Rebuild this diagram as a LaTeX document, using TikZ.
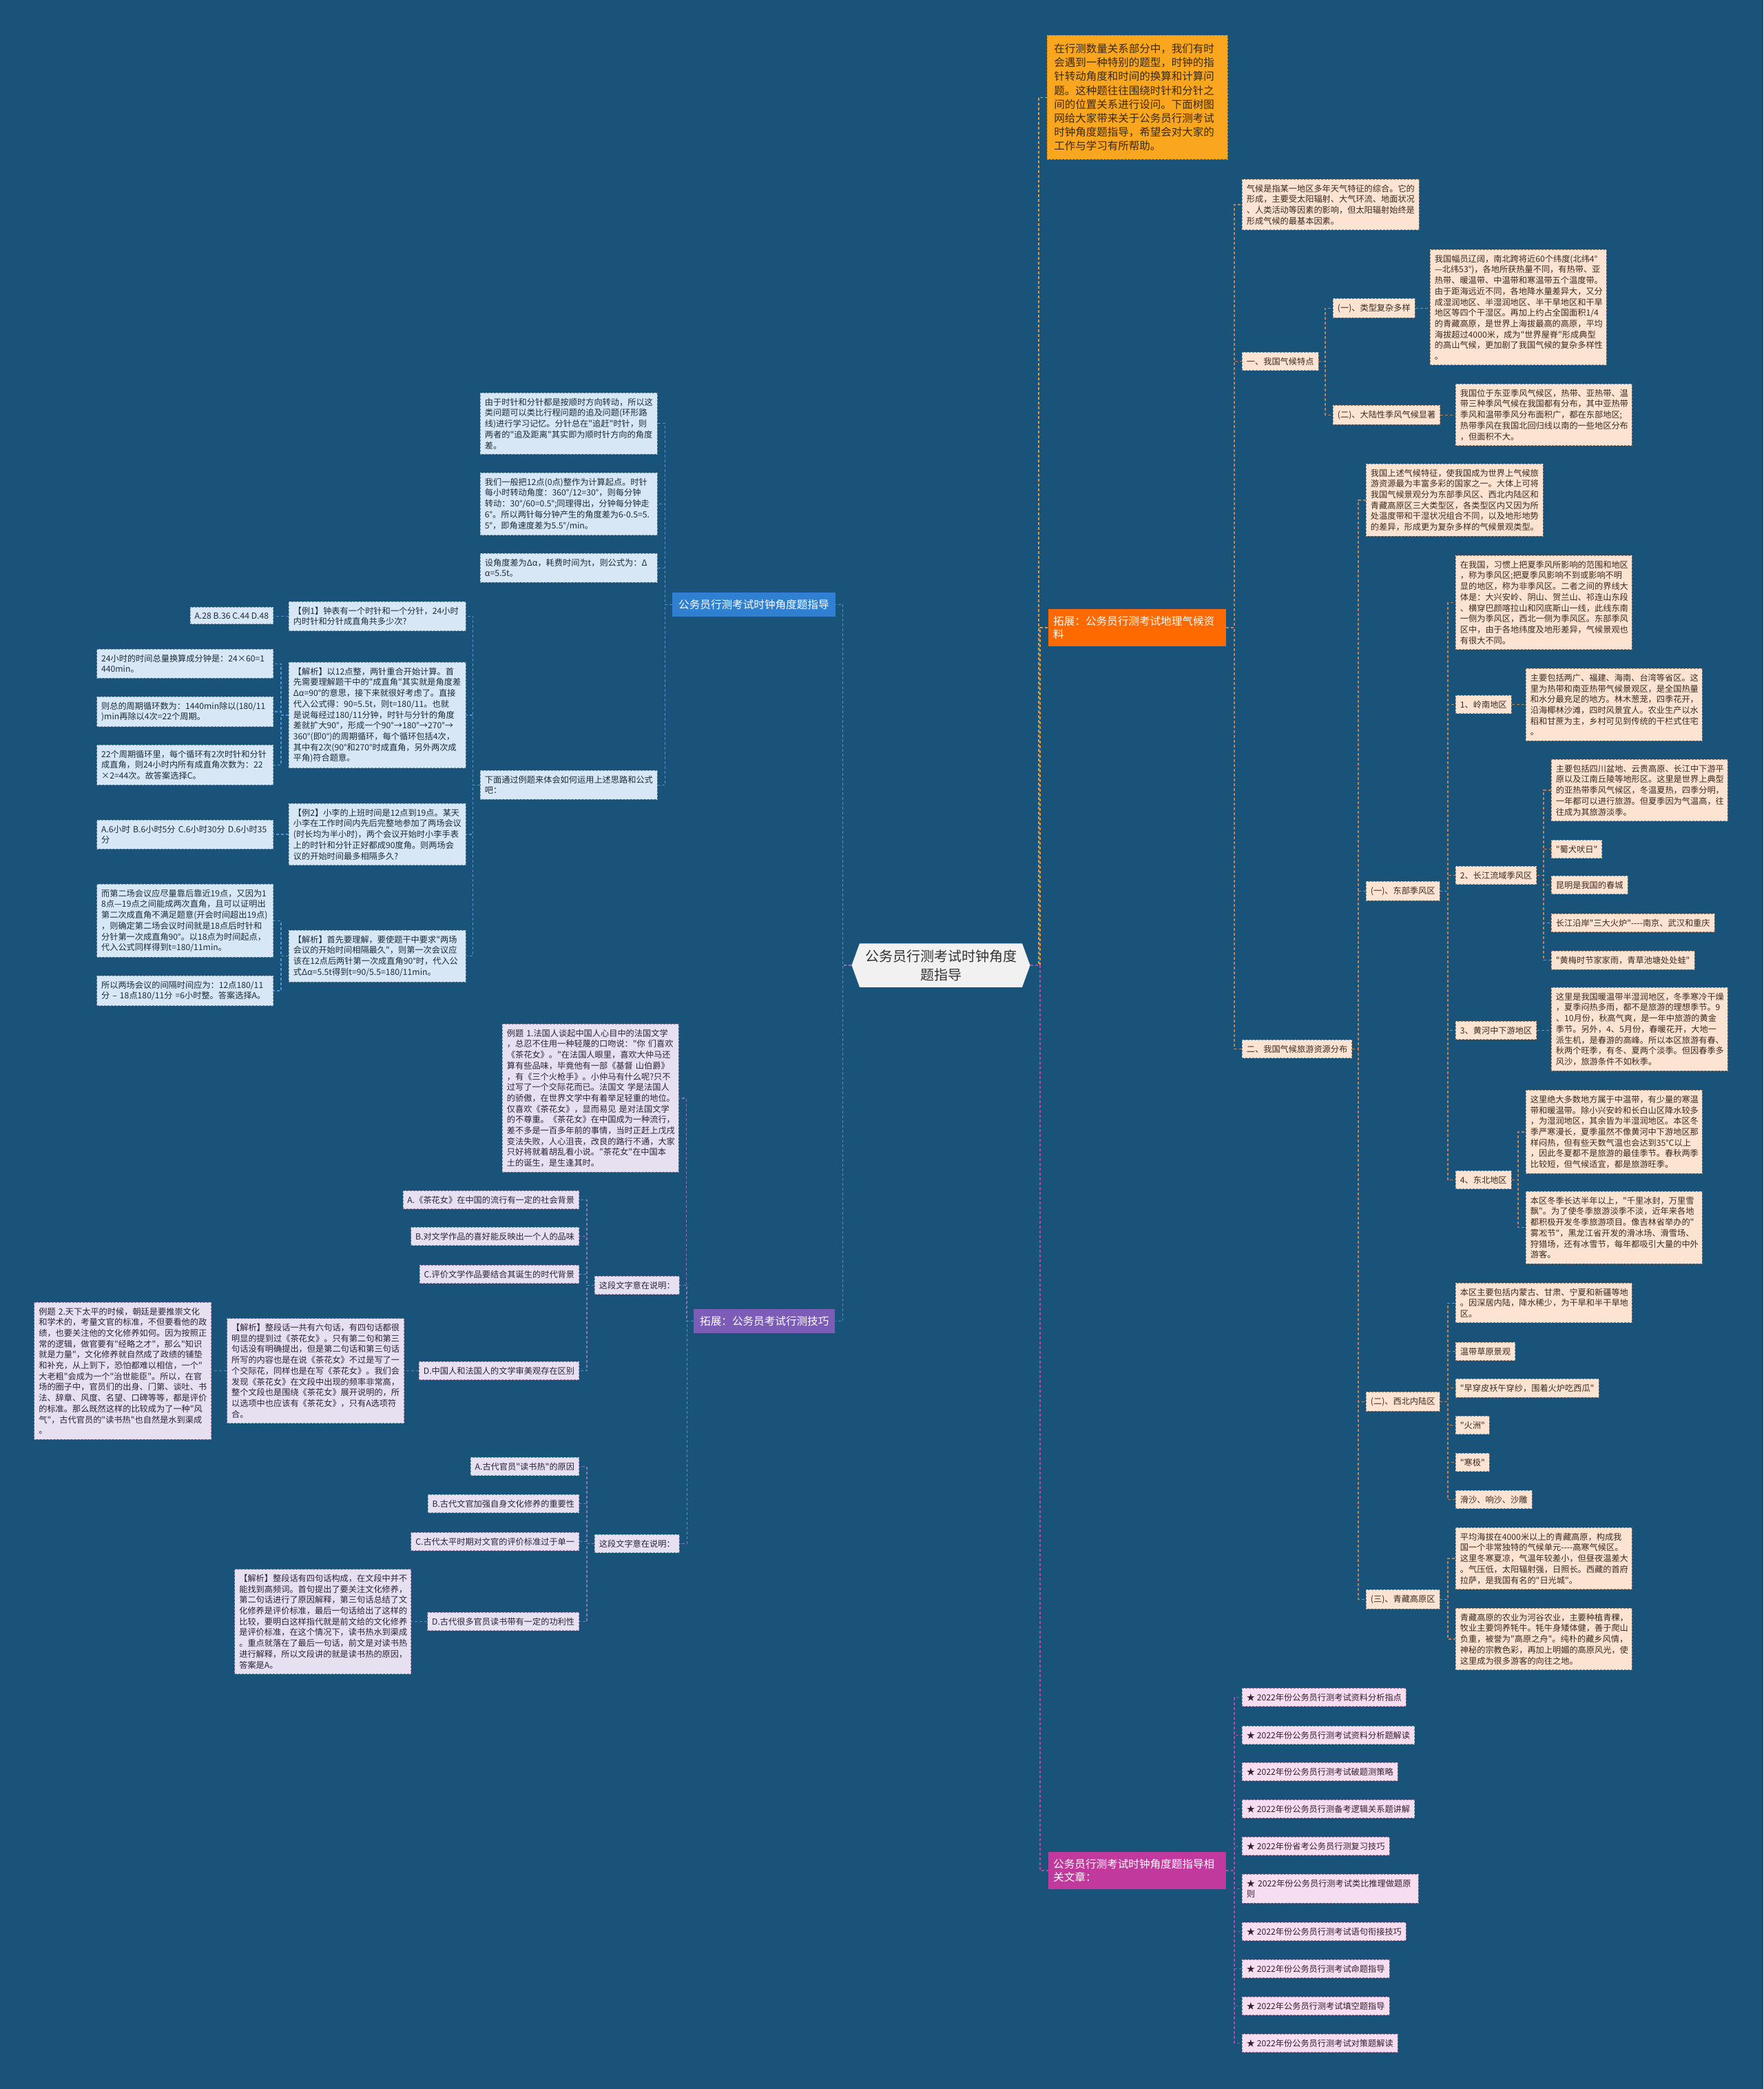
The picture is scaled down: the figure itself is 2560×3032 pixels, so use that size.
\documentclass[tikz,border=0pt]{standalone}
\usepackage{fontspec}
\newfontfamily\cjk{Noto Sans CJK SC}
\usetikzlibrary{positioning,shapes.symbols}
\definecolor{bgcol}{HTML}{1A5379}
\definecolor{introF}{HTML}{FAA61E}
\definecolor{introD}{HTML}{C98A1C}
\definecolor{introT}{HTML}{3A2A12}
\definecolor{brO}{HTML}{FF6A00}
\definecolor{brM}{HTML}{C2399E}
\definecolor{brB}{HTML}{2F80D0}
\definecolor{brV}{HTML}{7D5CB8}
\definecolor{peachF}{HTML}{FDE3D2}
\definecolor{peachD}{HTML}{9C7F70}
\definecolor{peachT}{HTML}{3B2A20}
\definecolor{blueF}{HTML}{D7E7F6}
\definecolor{blueD}{HTML}{7C95AE}
\definecolor{blueT}{HTML}{1F2B38}
\definecolor{lavF}{HTML}{E6E0F1}
\definecolor{lavD}{HTML}{8A82A8}
\definecolor{lavT}{HTML}{2A2438}
\definecolor{pinkF}{HTML}{F6DDF0}
\definecolor{pinkD}{HTML}{9A7A95}
\definecolor{pinkT}{HTML}{33202F}
\definecolor{rootF}{HTML}{F1F1F1}
\definecolor{rootT}{HTML}{333333}
\definecolor{lnO}{HTML}{E09A3A}
\definecolor{lnT}{HTML}{B98560}
\definecolor{lnM}{HTML}{B54AA3}
\definecolor{lnB}{HTML}{4D93DC}
\definecolor{lnV}{HTML}{8579BD}
\begin{document}
\begin{tikzpicture}[x=1pt, y=-1pt,
    txt/.style={font=\cjk\fontsize{12.2}{15.7}\selectfont, align=left, inner xsep=6.5pt, inner ysep=7.5pt},
    tw/.style={text width=#1pt},
    dashframe/.style={draw=#1, dashed, dash pattern=on 3pt off 2pt, line width=0.8pt},
    peachbox/.style={txt, dashframe=peachD, fill=peachF, text=peachT},
    bluebox/.style={txt, dashframe=blueD, fill=blueF, text=blueT},
    lavbox/.style={txt, dashframe=lavD, fill=lavF, text=lavT},
    pinkbox/.style={txt, dashframe=pinkD, fill=pinkF, text=pinkT},
    headbox/.style={font=\cjk\fontsize{15.6}{19}\selectfont, align=left, inner xsep=7pt, inner ysep=10pt, text=white, fill=#1},
    introbox/.style={font=\cjk\fontsize{15.5}{20.2}\selectfont, align=left, inner xsep=10pt, inner ysep=12pt, text=introT, fill=introF, dashframe=introD},
    rootbox/.style={shape=signal, signal to=west and east, signal pointer angle=140, fill=rootF, text=rootT, align=center, font=\cjk\fontsize{20}{27}\selectfont, inner xsep=8pt, inner ysep=9pt},
    link/.style={draw=#1, dashed, dash pattern=on 4pt off 3pt, line width=1.3pt},
]
\useasboundingbox (0,0) rectangle (2560,3032);
\fill[bgcol] (0,0) rectangle (2560,3032);

\node[rootbox] (root) at (1366,1401) {公务员行测考试时钟角度\\题指导};

% right: intro and climate branch
\node[introbox, tw=242, anchor=north west] (intro) at (1520,51) {在行测数量关系部分中，我们有时\\会遇到一种特别的题型，时钟的指\\针转动角度和时间的换算和计算问\\题。这种题往往围绕时针和分针之\\间的位置关系进行设问。下面树图\\网给大家带来关于公务员行测考试\\时钟角度题指导，希望会对大家的\\工作与学习有所帮助。};
\node[headbox=brO, tw=244, anchor=north west] (geo) at (1522,884) {拓展：公务员行测考试地理气候资\\料};
\node[headbox=brM, tw=244, anchor=north west] (rel) at (1522,2688) {公务员行测考试时钟角度题指导相\\关文章：};

\node[peachbox, tw=244, anchor=north west] (clim) at (1803,260) {气候是指某一地区多年天气特征的综合。它的\\形成，主要受太阳辐射、大气环流、地面状况\\、人类活动等因素的影响，但太阳辐射始终是\\形成气候的最基本因素。};
\node[peachbox, anchor=north west] (feat) at (1803,511) {一、我国气候特点};
\node[peachbox, anchor=north west] (featA) at (1935,433) {(一)、类型复杂多样};
\node[peachbox, tw=243, anchor=north west] (featAt) at (2076,362) {我国幅员辽阔，南北跨将近60个纬度(北纬4°\\—北纬53°)，各地所获热量不同，有热带、亚\\热带、暖温带、中温带和寒温带五个温度带。\\由于距海远近不同，各地降水量差异大，又分\\成湿润地区、半湿润地区、半干旱地区和干旱\\地区等四个干湿区。再加上约占全国面积1/4\\的青藏高原，是世界上海拔最高的高原，平均\\海拔超过4000米，成为"世界屋脊"形成典型\\的高山气候，更加剧了我国气候的复杂多样性\\。};
\node[peachbox, anchor=north west] (featB) at (1935,588) {(二)、大陆性季风气候显著};
\node[peachbox, tw=243, anchor=north west] (featBt) at (2113,557) {我国位于东亚季风气候区，热带、亚热带、温\\带三种季风气候在我国都有分布，其中亚热带\\季风和温带季风分布面积广，都在东部地区;\\热带季风在我国北回归线以南的一些地区分布\\，但面积不大。};

\node[peachbox, anchor=north west] (tour) at (1803,1509) {二、我国气候旅游资源分布};
\node[peachbox, tw=244, anchor=north west] (tourA) at (1983,673) {我国上述气候特征，使我国成为世界上气候旅\\游资源最为丰富多彩的国家之一。大体上可将\\我国气候景观分为东部季风区、西北内陆区和\\青藏高原区三大类型区，各类型区内又因为所\\处温度带和干湿状况组合不同，以及地形地势\\的差异，形成更为复杂多样的气候景观类型。};
\node[peachbox, anchor=north west] (east) at (1983,1279) {(一)、东部季风区};
\node[peachbox, tw=243, anchor=north west] (eastA) at (2113,806) {在我国，习惯上把夏季风所影响的范围和地区\\，称为季风区;把夏季风影响不到或影响不明\\显的地区，称为非季风区。二者之间的界线大\\体是：大兴安岭、阴山、贺兰山、祁连山东段\\、横穿巴颜喀拉山和冈底斯山一线，此线东南\\一侧为季风区，西北一侧为季风区。东部季风\\区中，由于各地纬度及地形差异，气候景观也\\有很大不同。};
\node[peachbox, anchor=north west] (ling) at (2113,1009) {1、岭南地区};
\node[peachbox, tw=243, anchor=north west] (lingT) at (2215,970) {主要包括两广、福建、海南、台湾等省区。这\\里为热带和南亚热带气候景观区，是全国热量\\和水分最充足的地方。林木葱茏，四季花开，\\沿海椰林沙滩，四时风景宜人。农业生产以水\\稻和甘蔗为主，乡村可见到传统的干栏式住宅\\。};
\node[peachbox, anchor=north west] (yang) at (2113,1257) {2、长江流域季风区};
\node[peachbox, tw=243, anchor=north west] (yangT) at (2252,1102) {主要包括四川盆地、云贵高原、长江中下游平\\原以及江南丘陵等地形区。这里是世界上典型\\的亚热带季风气候区，冬温夏热，四季分明，\\一年都可以进行旅游。但夏季因为气温高，往\\往成为其旅游淡季。};
\node[peachbox, anchor=north west] (shu) at (2252,1219) {"蜀犬吠日"};
\node[peachbox, anchor=north west] (kun) at (2252,1271) {昆明是我国的春城};
\node[peachbox, anchor=north west] (furn) at (2252,1326) {长江沿岸"三大火炉"-{}-{}-{}-南京、武汉和重庆};
\node[peachbox, anchor=north west] (mei) at (2252,1380) {"黄梅时节家家雨，青草池塘处处蛙"};
\node[peachbox, anchor=north west] (huang) at (2113,1482) {3、黄河中下游地区};
\node[peachbox, tw=243, anchor=north west] (huangT) at (2252,1433) {这里是我国暖温带半湿润地区，冬季寒冷干燥\\，夏季闷热多雨，都不是旅游的理想季节。9\\、10月份，秋高气爽，是一年中旅游的黄金\\季节。另外，4、5月份，春暖花开，大地一\\派生机，是春游的高峰。所以本区旅游有春、\\秋两个旺季，有冬、夏两个淡季。但因春季多\\风沙，旅游条件不如秋季。};
\node[peachbox, anchor=north west] (dong) at (2113,1699) {4、东北地区};
\node[peachbox, tw=243, anchor=north west] (dongA) at (2215,1582) {这里绝大多数地方属于中温带，有少量的寒温\\带和暖温带。除小兴安岭和长白山区降水较多\\，为湿润地区，其余皆为半湿润地区。本区冬\\季严寒漫长，夏季虽然不像黄河中下游地区那\\样闷热，但有些天数气温也会达到35℃以上\\，因此冬夏都不是旅游的最佳季节。春秋两季\\比较短，但气候适宜，都是旅游旺季。};
\node[peachbox, tw=243, anchor=north west] (dongB) at (2215,1729) {本区冬季长达半年以上，"千里冰封，万里雪\\飘"。为了使冬季旅游淡季不淡，近年来各地\\都积极开发冬季旅游项目。像吉林省举办的"\\雾凇节"，黑龙江省开发的滑冰场、滑雪场、\\狩猎场，还有冰雪节，每年都吸引大量的中外\\游客。};
\node[peachbox, anchor=north west] (west) at (1983,2020) {(二)、西北内陆区};
\node[peachbox, tw=243, anchor=north west] (westA) at (2113,1862) {本区主要包括内蒙古、甘肃、宁夏和新疆等地\\。因深居内陆，降水稀少，为干旱和半干旱地\\区。};
\node[peachbox, anchor=north west] (westB) at (2113,1948) {温带草原景观};
\node[peachbox, anchor=north west] (westC) at (2113,2001) {"早穿皮袄午穿纱，围着火炉吃西瓜"};
\node[peachbox, anchor=north west] (westD) at (2113,2055) {"火洲"};
\node[peachbox, anchor=north west] (westE) at (2113,2109) {"寒极"};
\node[peachbox, anchor=north west] (westF) at (2113,2163) {滑沙、响沙、沙雕};
\node[peachbox, anchor=north west] (qing) at (1983,2307) {(三)、青藏高原区};
\node[peachbox, tw=243, anchor=north west] (qingA) at (2113,2217) {平均海拔在4000米以上的青藏高原，构成我\\国一个非常独特的气候单元-{}-{}-{}-高寒气候区。\\这里冬寒夏凉，气温年较差小，但昼夜温差大\\。气压低，太阳辐射强，日照长。西藏的首府\\拉萨，是我国有名的"日光城"。};
\node[peachbox, tw=243, anchor=north west] (qingB) at (2113,2334) {青藏高原的农业为河谷农业，主要种植青稞，\\牧业主要饲养牦牛。牦牛身矮体健，善于爬山\\负重，被誉为"高原之舟"。纯朴的藏乡风情，\\神秘的宗教色彩，再加上明媚的高原风光，使\\这里成为很多游客的向往之地。};

% right: related articles
\node[pinkbox, anchor=north west] (art1) at (1803,2450) {★ 2022年份公务员行测考试资料分析指点};
\node[pinkbox, anchor=north west] (art2) at (1803,2505) {★ 2022年份公务员行测考试资料分析题解读};
\node[pinkbox, anchor=north west] (art3) at (1803,2558) {★ 2022年份公务员行测考试破题测策略};
\node[pinkbox, anchor=north west] (art4) at (1803,2612) {★ 2022年份公务员行测备考逻辑关系题讲解};
\node[pinkbox, anchor=north west] (art5) at (1803,2666) {★ 2022年份省考公务员行测复习技巧};
\node[pinkbox, tw=243, anchor=north west] (art6) at (1803,2720) {★ 2022年份公务员行测考试类比推理做题原\\则};
\node[pinkbox, anchor=north west] (art7) at (1803,2790) {★ 2022年份公务员行测考试语句衔接技巧};
\node[pinkbox, anchor=north west] (art8) at (1803,2844) {★ 2022年份公务员行测考试命题指导};
\node[pinkbox, anchor=north west] (art9) at (1803,2898) {★ 2022年公务员行测考试填空题指导};
\node[pinkbox, anchor=north west] (art10) at (1803,2952) {★ 2022年份公务员行测考试对策题解读};

% left: clock angle branch
\node[headbox=brB, inner xsep=9pt, anchor=north west] (clk) at (976,860) {公务员行测考试时钟角度题指导};
\node[bluebox, tw=244, anchor=north west] (bA) at (697,570) {由于时针和分针都是按顺时方向转动，所以这\\类问题可以类比行程问题的追及问题(环形路\\线)进行学习记忆。分针总在"追赶"时针，则\\两者的"追及距离"其实即为顺时针方向的角度\\差。};
\node[bluebox, tw=244, anchor=north west] (bB) at (697,686) {我们一般把12点(0点)整作为计算起点。时针\\每小时转动角度：360°/12=30°，则每分钟\\转动：30°/60=0.5°;同理得出，分钟每分钟走\\6°。所以两针每分钟产生的角度差为6-0.5=5.\\5°，即角速度差为5.5°/min。};
\node[bluebox, tw=244, anchor=north west] (bC) at (697,803) {设角度差为Δα，耗费时间为t，则公式为：Δ\\α=5.5t。};
\node[bluebox, tw=244, anchor=north west] (bD) at (697,1118) {下面通过例题来体会如何运用上述思路和公式\\吧：};
\node[bluebox, tw=244, anchor=north west] (ex1) at (419,873) {【例1】钟表有一个时针和一个分针，24小时\\内时针和分针成直角共多少次?};
\node[bluebox, anchor=north east] (ex1o) at (397,881) {A.28~B.36~C.44~D.48};
\node[bluebox, tw=244, anchor=north west] (sol1) at (419,961) {【解析】以12点整，两针重合开始计算。首\\先需要理解题干中的"成直角"其实就是角度差\\Δα=90°的意思，接下来就很好考虑了。直接\\代入公式得：90=5.5t，则t=180/11。也就\\是说每经过180/11分钟，时针与分针的角度\\差就扩大90°，形成一个90°→180°→270°→\\360°(即0°)的周期循环，每个循环包括4次，\\其中有2次(90°和270°时成直角，另外两次成\\平角)符合题意。};
\node[bluebox, tw=243, anchor=north east] (sol1a) at (397,942) {24小时的时间总量换算成分钟是：24×60=1\\440min。};
\node[bluebox, tw=243, anchor=north east] (sol1b) at (397,1011) {则总的周期循环数为：1440min除以(180/11\\)min再除以4次=22个周期。};
\node[bluebox, tw=243, anchor=north east] (sol1c) at (397,1081) {22个周期循环里，每个循环有2次时针和分针\\成直角，则24小时内所有成直角次数为：22\\×2=44次。故答案选择C。};
\node[bluebox, tw=244, anchor=north west] (ex2) at (419,1166) {【例2】小李的上班时间是12点到19点。某天\\小李在工作时间内先后完整地参加了两场会议\\(时长均为半小时)，两个会议开始时小李手表\\上的时针和分针正好都成90度角。则两场会\\议的开始时间最多相隔多久?};
\node[bluebox, tw=243, anchor=north east] (ex2o) at (397,1190) {A.6小时~B.6小时5分~C.6小时30分~D.6小时35\\分};
\node[bluebox, tw=244, anchor=north west] (sol2) at (419,1350) {【解析】首先要理解，要使题干中要求"两场\\会议的开始时间相隔最久"，则第一次会议应\\该在12点后两针第一次成直角90°时，代入公\\式Δα=5.5t得到t=90/5.5=180/11min。};
\node[bluebox, tw=243, anchor=north east] (sol2a) at (397,1283) {而第二场会议应尽量靠后靠近19点，又因为1\\8点—19点之间能成两次直角，且可以证明出\\第二次成直角不满足题意(开会时间超出19点)\\，则确定第二场会议时间就是18点后时针和\\分针第一次成直角90°。以18点为时间起点，\\代入公式同样得到t=180/11min。};
\node[bluebox, tw=243, anchor=north east] (sol2b) at (397,1416) {所以两场会议的间隔时间应为：12点180/11\\分~–~18点180/11分~=6小时整。答案选择A。};

% left: exam skills branch
\node[headbox=brV, inner xsep=9pt, anchor=north west] (ext) at (1007,1900) {拓展：公务员考试行测技巧};
\node[lavbox, tw=243, anchor=north west] (pA) at (729,1486) {例题~1.法国人谈起中国人心目中的法国文学\\，总忍不住用一种轻蔑的口吻说："你~们喜欢\\《茶花女》。"在法国人眼里，喜欢大仲马还\\算有些品味，毕竟他有一部《基督~山伯爵》\\，有《三个火枪手》。小仲马有什么呢?只不\\过写了一个交际花而已。法国文~学是法国人\\的骄傲，在世界文学中有着举足轻重的地位。\\仅喜欢《茶花女》，显而易见~是对法国文学\\的不尊重。《茶花女》在中国成为一种流行，\\差不多是一百多年前的事情，当时正赶上戊戌\\变法失败，人心沮丧，改良的路行不通，大家\\只好将就着胡乱看小说。"茶花女"在中国本\\土的诞生，是生逢其时。};
\node[lavbox, anchor=north west] (say1) at (863,1852) {这段文字意在说明：};
\node[lavbox, anchor=north east] (o1A) at (841,1728) {A.《茶花女》在中国的流行有一定的社会背景};
\node[lavbox, anchor=north east] (o1B) at (841,1781) {B.对文学作品的喜好能反映出一个人的品味};
\node[lavbox, anchor=north east] (o1C) at (841,1836) {C.评价文学作品要结合其诞生的时代背景};
\node[lavbox, anchor=north east] (o1D) at (841,1976) {D.中国人和法国人的文学审美观存在区别};
\node[lavbox, tw=244, left=21pt of o1D] (o1Ds) {【解析】整段话一共有六句话，有四句话都很\\明显的提到过《茶花女》。只有第二句和第三\\句话没有明确提出，但是第二句话和第三句话\\所写的内容也是在说《茶花女》不过是写了一\\个交际花，同样也是在写《茶花女》。我们会\\发现《茶花女》在文段中出现的频率非常高，\\整个文段也是围绕《茶花女》展开说明的，所\\以选项中也应该有《茶花女》，只有A选项符\\合。};
\node[lavbox, tw=244, left=22pt of o1Ds] (p2) {例题~2.天下太平的时候，朝廷是要推崇文化\\和学术的，考量文官的标准，不但要看他的政\\绩，也要关注他的文化修养如何。因为按照正\\常的逻辑，做官要有"经略之才"，那么"知识\\就是力量"，文化修养就自然成了政绩的铺垫\\和补充，从上到下，恐怕都难以相信，一个"\\大老粗"会成为一个"治世能臣"。所以，在官\\场的圈子中，官员们的出身、门第、谈吐、书\\法、辞章、风度、名望、口碑等等，都是评价\\的标准。那么既然这样的比较成为了一种"风\\气"，古代官员的"读书热"也自然是水到渠成\\。};
\node[lavbox, anchor=north west] (say2) at (863,2227) {这段文字意在说明：};
\node[lavbox, anchor=north east] (o2A) at (841,2115) {A.古代官员"读书热"的原因};
\node[lavbox, anchor=north east] (o2B) at (841,2169) {B.古代文官加强自身文化修养的重要性};
\node[lavbox, anchor=north east] (o2C) at (841,2224) {C.古代太平时期对文官的评价标准过于单一};
\node[lavbox, anchor=north east] (o2D) at (841,2340) {D.古代很多官员读书带有一定的功利性};
\node[lavbox, tw=243, left=23pt of o2D] (o2Ds) {【解析】整段话有四句话构成，在文段中并不\\能找到高频词。首句提出了要关注文化修养，\\第二句话进行了原因解释，第三句话总结了文\\化修养是评价标准，最后一句话给出了这样的\\比较，要明白这样指代就是前文给的文化修养\\是评价标准，在这个情况下，读书热水到渠成\\。重点就落在了最后一句话，前文是对读书热\\进行解释，所以文段讲的就是读书热的原因，\\答案是A。};

% connectors from the root
\draw[link=lnO] (root.east) -| ([xshift=-12pt]intro.west) -- (intro.west);
\draw[link=lnO] (root.east) -| ([xshift=-12pt]geo.west) -- (geo.west);
\draw[link=lnM] (root.east) -| ([xshift=-12pt]rel.west) -- (rel.west);
\draw[link=lnB] (root.west) -| ([xshift=11pt]clk.east) -- (clk.east);
\draw[link=lnV] (root.west) -| ([xshift=11pt]ext.east) -- (ext.east);

% climate branch
\draw[link=lnT] (geo.east) -| ([xshift=-11pt]clim.west) -- (clim.west);
\draw[link=lnT] (geo.east) -| ([xshift=-11pt]feat.west) -- (feat.west);
\draw[link=lnT] (geo.east) -| ([xshift=-11pt]tour.west) -- (tour.west);
\draw[link=lnT] (feat.east) -| ([xshift=-11pt]featA.west) -- (featA.west);
\draw[link=lnT] (feat.east) -| ([xshift=-11pt]featB.west) -- (featB.west);
\draw[link=lnT] (featA.east) -- (featA.east -| featAt.west);
\draw[link=lnT] (featB.east) -- (featB.east -| featBt.west);
\draw[link=lnT] (tour.east) -| ([xshift=-11pt]tourA.west) -- (tourA.west);
\draw[link=lnT] (tour.east) -| ([xshift=-11pt]east.west) -- (east.west);
\draw[link=lnT] (tour.east) -| ([xshift=-11pt]west.west) -- (west.west);
\draw[link=lnT] (tour.east) -| ([xshift=-11pt]qing.west) -- (qing.west);
\draw[link=lnT] (east.east) -| ([xshift=-11pt]eastA.west) -- (eastA.west);
\draw[link=lnT] (east.east) -| ([xshift=-11pt]ling.west) -- (ling.west);
\draw[link=lnT] (east.east) -| ([xshift=-11pt]yang.west) -- (yang.west);
\draw[link=lnT] (east.east) -| ([xshift=-11pt]huang.west) -- (huang.west);
\draw[link=lnT] (east.east) -| ([xshift=-11pt]dong.west) -- (dong.west);
\draw[link=lnT] (ling.east) -- (ling.east -| lingT.west);
\draw[link=lnT] (huang.east) -- (huang.east -| huangT.west);
\draw[link=lnT] (yang.east) -| ([xshift=-11pt]yangT.west) -- (yangT.west);
\draw[link=lnT] (yang.east) -| ([xshift=-11pt]shu.west) -- (shu.west);
\draw[link=lnT] (yang.east) -| ([xshift=-11pt]kun.west) -- (kun.west);
\draw[link=lnT] (yang.east) -| ([xshift=-11pt]furn.west) -- (furn.west);
\draw[link=lnT] (yang.east) -| ([xshift=-11pt]mei.west) -- (mei.west);
\draw[link=lnT] (dong.east) -| ([xshift=-11pt]dongA.west) -- (dongA.west);
\draw[link=lnT] (dong.east) -| ([xshift=-11pt]dongB.west) -- (dongB.west);
\draw[link=lnT] (west.east) -| ([xshift=-11pt]westA.west) -- (westA.west);
\draw[link=lnT] (west.east) -| ([xshift=-11pt]westB.west) -- (westB.west);
\draw[link=lnT] (west.east) -| ([xshift=-11pt]westC.west) -- (westC.west);
\draw[link=lnT] (west.east) -| ([xshift=-11pt]westD.west) -- (westD.west);
\draw[link=lnT] (west.east) -| ([xshift=-11pt]westE.west) -- (westE.west);
\draw[link=lnT] (west.east) -| ([xshift=-11pt]westF.west) -- (westF.west);
\draw[link=lnT] (qing.east) -| ([xshift=-11pt]qingA.west) -- (qingA.west);
\draw[link=lnT] (qing.east) -| ([xshift=-11pt]qingB.west) -- (qingB.west);

% related articles
\draw[link=lnM] (rel.east) -| ([xshift=-11pt]art1.west) -- (art1.west);
\draw[link=lnM] (rel.east) -| ([xshift=-11pt]art2.west) -- (art2.west);
\draw[link=lnM] (rel.east) -| ([xshift=-11pt]art3.west) -- (art3.west);
\draw[link=lnM] (rel.east) -| ([xshift=-11pt]art4.west) -- (art4.west);
\draw[link=lnM] (rel.east) -| ([xshift=-11pt]art5.west) -- (art5.west);
\draw[link=lnM] (rel.east) -| ([xshift=-11pt]art6.west) -- (art6.west);
\draw[link=lnM] (rel.east) -| ([xshift=-11pt]art7.west) -- (art7.west);
\draw[link=lnM] (rel.east) -| ([xshift=-11pt]art8.west) -- (art8.west);
\draw[link=lnM] (rel.east) -| ([xshift=-11pt]art9.west) -- (art9.west);
\draw[link=lnM] (rel.east) -| ([xshift=-11pt]art10.west) -- (art10.west);

% clock angle branch
\draw[link=lnB] (clk.west) -| ([xshift=11pt]bA.east) -- (bA.east);
\draw[link=lnB] (clk.west) -| ([xshift=11pt]bB.east) -- (bB.east);
\draw[link=lnB] (clk.west) -| ([xshift=11pt]bC.east) -- (bC.east);
\draw[link=lnB] (clk.west) -| ([xshift=11pt]bD.east) -- (bD.east);
\draw[link=lnB] (bD.west) -| ([xshift=10pt]ex1.east) -- (ex1.east);
\draw[link=lnB] (bD.west) -| ([xshift=10pt]sol1.east) -- (sol1.east);
\draw[link=lnB] (bD.west) -| ([xshift=10pt]ex2.east) -- (ex2.east);
\draw[link=lnB] (bD.west) -| ([xshift=10pt]sol2.east) -- (sol2.east);
\draw[link=lnB] (ex1.west) -- (ex1.west -| ex1o.east);
\draw[link=lnB] (ex2.west) -- (ex2.west -| ex2o.east);
\draw[link=lnB] (sol1.west) -| ([xshift=11pt]sol1a.east) -- (sol1a.east);
\draw[link=lnB] (sol1.west) -| ([xshift=11pt]sol1b.east) -- (sol1b.east);
\draw[link=lnB] (sol1.west) -| ([xshift=11pt]sol1c.east) -- (sol1c.east);
\draw[link=lnB] (sol2.west) -| ([xshift=11pt]sol2a.east) -- (sol2a.east);
\draw[link=lnB] (sol2.west) -| ([xshift=11pt]sol2b.east) -- (sol2b.east);

% exam skills branch
\draw[link=lnV] (ext.west) -| ([xshift=11pt]pA.east) -- (pA.east);
\draw[link=lnV] (ext.west) -| ([xshift=11pt]say1.east) -- (say1.east);
\draw[link=lnV] (ext.west) -| ([xshift=11pt]say2.east) -- (say2.east);
\draw[link=lnV] (say1.west) -| ([xshift=11pt]o1A.east) -- (o1A.east);
\draw[link=lnV] (say1.west) -| ([xshift=11pt]o1B.east) -- (o1B.east);
\draw[link=lnV] (say1.west) -| ([xshift=11pt]o1C.east) -- (o1C.east);
\draw[link=lnV] (say1.west) -| ([xshift=11pt]o1D.east) -- (o1D.east);
\draw[link=lnV] (o1D.west) -- (o1Ds.east);
\draw[link=lnV] (o1Ds.west) -- (p2.east);
\draw[link=lnV] (say2.west) -| ([xshift=11pt]o2A.east) -- (o2A.east);
\draw[link=lnV] (say2.west) -| ([xshift=11pt]o2B.east) -- (o2B.east);
\draw[link=lnV] (say2.west) -| ([xshift=11pt]o2C.east) -- (o2C.east);
\draw[link=lnV] (say2.west) -| ([xshift=11pt]o2D.east) -- (o2D.east);
\draw[link=lnV] (o2D.west) -- (o2Ds.east);
\end{tikzpicture}
\end{document}
